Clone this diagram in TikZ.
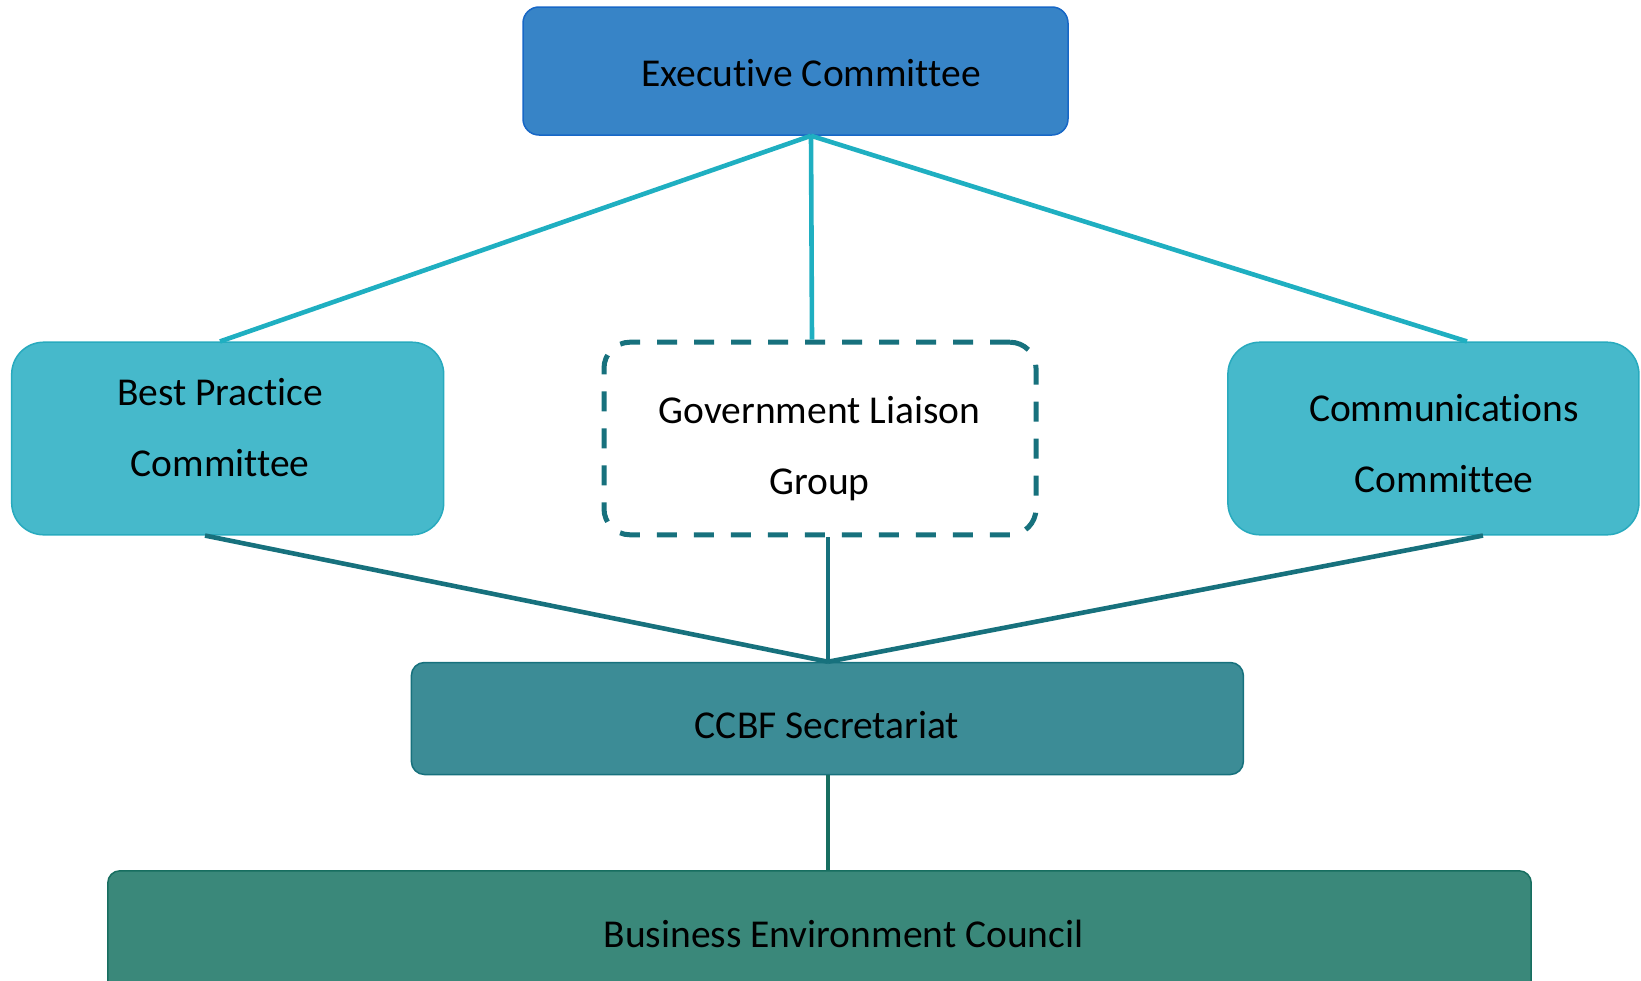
\documentclass[tikz,border=0pt]{standalone}
\usepackage{fontspec}
\setmainfont{Carlito}[Ligatures=NoCommon]
\usetikzlibrary{positioning}
\definecolor{execfill}{HTML}{3784C7}
\definecolor{execedge}{HTML}{1767C6}
\definecolor{cmtfill}{HTML}{46B9CB}
\definecolor{cmtedge}{HTML}{28AABE}
\definecolor{upline}{HTML}{1FAFC1}
\definecolor{downline}{HTML}{17717D}
\definecolor{secfill}{HTML}{3C8C96}
\definecolor{councilfill}{HTML}{3A887A}
\definecolor{counciledge}{HTML}{176E60}
\tikzstyle{box} = [rectangle, line width=1.5pt, inner sep=0pt]
\tikzstyle{execbox} = [box, draw=execedge, fill=execfill, rounded corners=16pt]
\tikzstyle{cmtbox} = [box, draw=cmtedge, fill=cmtfill, rounded corners=32pt]
\tikzstyle{groupbox} = [box, draw=downline, fill=white, line width=5pt, dash pattern=on 20pt off 17pt, rounded corners=26pt]
\tikzstyle{secbox} = [box, draw=downline, fill=secfill, rounded corners=13pt]
\tikzstyle{councilbox} = [box, draw=counciledge, fill=councilfill, rounded corners=12pt]
\tikzstyle{boxtext} = [font=\fontsize{39.5}{71}\selectfont, align=center, text=black]
\tikzstyle{uplink} = [draw=upline, line width=4.6pt]
\tikzstyle{downlink} = [draw=downline, line width=4.6pt]

\begin{document}
\begin{tikzpicture}[x=1pt, y=-1pt]
	\useasboundingbox (0,0) rectangle (1641,980);
	% boxes
	\node[execbox, minimum width=545pt, minimum height=128pt] (exec) at (795.5,71) {};
	\node[cmtbox, minimum width=432pt, minimum height=192.6pt] (best) at (227.7,438.5) {};
	\node[groupbox, minimum width=432pt, minimum height=192.6pt] (gov) at (820,438.5) {};
	\node[cmtbox, minimum width=411pt, minimum height=192.6pt] (comm) at (1433.4,438.5) {};
	\node[secbox, minimum width=832pt, minimum height=112pt] (sec) at (827.4,718.5) {};
	\node[councilbox, minimum width=1423.4pt, minimum height=140pt] (council) at (819.5,940.8) {};
	% texts
	\node[boxtext] (exec-t) at (811,73) {Executive Committee};
	\node[boxtext] (best-t) at (220,428) {Best Practice\\Committee};
	\node[boxtext] (gov-t) at (819.5,449) {Government Liaison\\Group};
	\node[boxtext] (comm-t) at (1444,444) {Communications\\Committee};
	\node[boxtext] (sec-t) at (827,725) {CCBF Secretariat};
	\node[boxtext] (council-t) at (843.6,934) {Business Environment Council};
	% links
	\draw[uplink] ([xshift=15.5pt]exec.south) -- ([xshift=-7.7pt]best.north);
	\draw[uplink] ([xshift=15.5pt]exec.south) -- ([xshift=-8pt]gov.north);
	\draw[uplink] ([xshift=15.5pt]exec.south) -- ([xshift=33.6pt]comm.north);
	\draw[downlink] ([xshift=-22.7pt]best.south) -- ([xshift=0.6pt]sec.north);
	\draw[downlink] ([xshift=8pt]gov.south) -- ([xshift=0.6pt]sec.north);
	\draw[downlink] ([xshift=49.6pt]comm.south) -- ([xshift=0.6pt]sec.north);
	\draw[draw=counciledge, line width=4.6pt] ([xshift=0.6pt]sec.south) -- ([xshift=8.5pt]council.north);
\end{tikzpicture}
\end{document}
